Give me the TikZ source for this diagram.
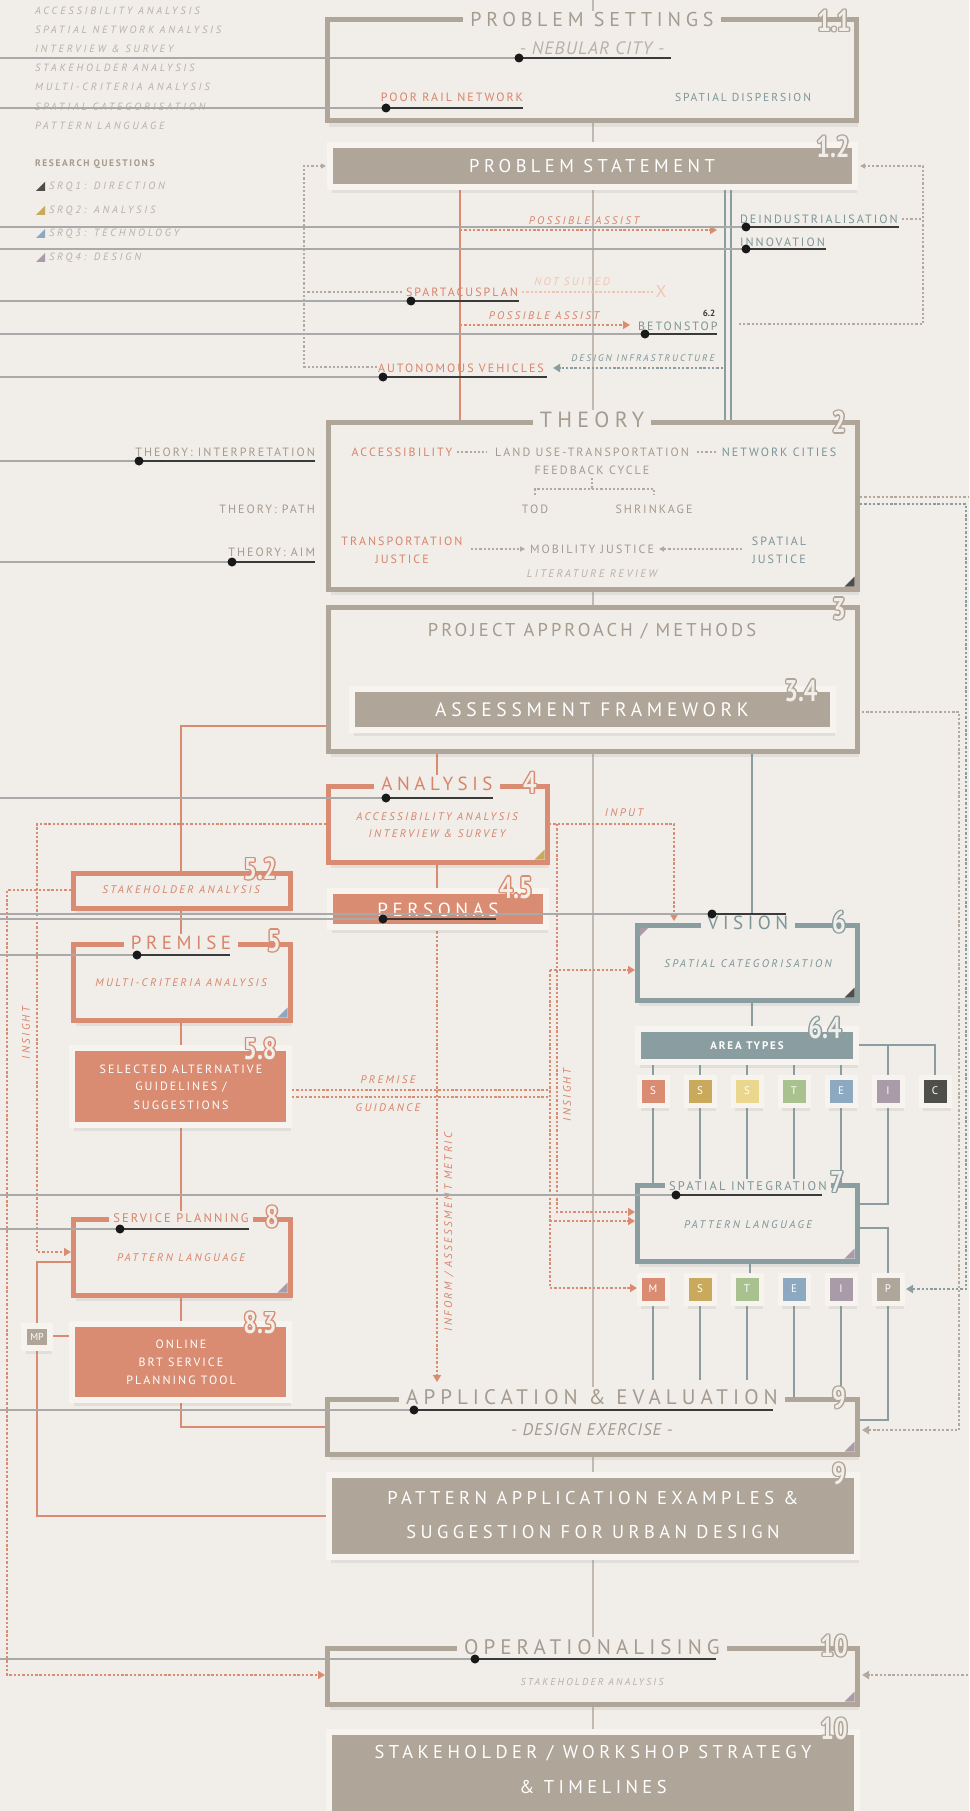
\documentclass[tikz,border=0pt]{standalone}
\usepackage{fontspec}
\usepackage{graphicx}
\setmainfont{PT Sans}
\newfontfamily\fT[LetterSpace=24]{PT Sans}
\newfontfamily\fL[LetterSpace=17]{PT Sans}
\newfontfamily\fW[LetterSpace=27]{PT Sans}
\newfontfamily\fI[LetterSpace=22]{PT Sans}
\newfontfamily\fS[LetterSpace=6]{PT Sans}
\newfontfamily\fN{PT Sans}
\newcommand\fsz[1]{\fontsize{#1}{#1}\selectfont}
\usetikzlibrary{arrows.meta,shadows}
\definecolor{bg}{HTML}{F1EDE8}
\definecolor{tp}{HTML}{AFA598}
\definecolor{tpt}{HTML}{A59B8F}
\definecolor{org}{HTML}{D98C72}
\definecolor{orgt}{HTML}{D8846A}
\definecolor{tl}{HTML}{8A9EA1}
\definecolor{tlt}{HTML}{7C9598}
\definecolor{rim}{HTML}{F7F4F0}
\definecolor{lg}{HTML}{B9B1A9}
\definecolor{gl}{HTML}{A9A9A9}
\definecolor{dk}{HTML}{3A3A3A}
\definecolor{pale}{HTML}{F0C5B5}
\definecolor{gold}{HTML}{C9A95B}
\definecolor{yel}{HTML}{EAD68C}
\definecolor{grn}{HTML}{A9C08F}
\definecolor{blu}{HTML}{8DA8C1}
\definecolor{mau}{HTML}{A99BA8}
\definecolor{drk}{HTML}{4E4E4B}
\definecolor{cln}{HTML}{C2BAB1}
\definecolor{tpd}{HTML}{B3A99E}
\newcommand\bnum[3]{%
  \foreach \dx/\dy in {-1.4/0,1.4/0,0/1.4,0/-1.4,-1/1,1/1,-1/-1,1/-1}{%
    \node[numf,text=#3,xshift=\dx pt,yshift=\dy pt] at (#1) {\scalebox{0.8}[1]{#2}};}%
  \node[numf,text=bg] at (#1) {\scalebox{0.8}[1]{#2}};}
\newcommand\ctri[3]{\fill[#3] (#1,#2) -- ++(-10,0) -- ++(10,-10) -- cycle;}
\begin{document}
\begin{tikzpicture}[x=1pt,y=-1pt,
  every node/.style={inner sep=0pt,outer sep=0pt},
  shd/.style={drop shadow={shadow xshift=2pt,shadow yshift=-6pt,opacity=0.13}},
  obox/.style={draw=#1,line width=5,fill=bg,shd},
  fbox/.style={fill=#1,draw=rim,line width=6,shd},
  sq/.style={fill=#1,draw=rim,line width=5,minimum size=28,text=white,font=\fN\fsz{11},shd},
  ttl/.style={fill=bg,inner xsep=7pt,inner ysep=2pt,text=#1},
  numf/.style={font=\fN\bfseries\fsz{30}},
  ol/.style={draw=org,line width=2.6},
  tls/.style={draw=tl,line width=2.6},
  od/.style={draw=org,line width=2.4,dash pattern=on 2.4pt off 1.9pt},
  odp/.style={draw=pale,line width=2.4,dash pattern=on 2.4pt off 1.9pt},
  tld/.style={draw=tl,line width=2.4,dash pattern=on 2.4pt off 1.9pt},
  tdd/.style={draw=tpd,line width=2.4,dash pattern=on 2.4pt off 1.9pt},
  gd/.style={draw=tpd,line width=1.2,dash pattern=on 2.2pt off 2pt},
  ar/.style={-{Triangle[length=7pt,width=8pt]}},
  sar/.style={-{Triangle[length=5pt,width=5pt]}},
  lst/.style={anchor=west,text=lg,font=\fW\itshape\fsz{10.5}},
  lab/.style={font=\fL\fsz{12}},
  itl/.style={font=\fI\itshape\fsz{11}}
]
\fill[bg] (0,0) rectangle (969,1811);
\useasboundingbox (0,0) rectangle (969,1811);
\clip (0,0) rectangle (969,1811);

% central spine
\draw[draw=cln,line width=1.4] (593,0) -- (593,1745);

% ---------- connectors (under boxes) ----------
\draw[ol] (460,188) -- (460,420);
\draw[tls,line width=2] (725,188) -- (725,420);
\draw[tls,line width=2] (731,188) -- (731,420);
\draw[od,ar] (460,230) -- (717,230);
\draw[odp] (522,292) -- (655,292);
\draw[od,ar] (460,325) -- (630,325);
\draw[tld,ar] (723,368) -- (553,368);
\draw[gd] (402,292) -- (304,292);
\draw[gd,sar] (377,367) -- (304,367) -- (304,166) -- (326,166);
\draw[gd] (902,219) -- (923,219);
\draw[gd,sar] (739,324) -- (923,324) -- (923,166) -- (860,166);
% right side dotted
\draw[tdd,ar] (860,497) -- (985,497) -- (985,1675) -- (862,1675);
\draw[tld,ar] (860,504) -- (966,504) -- (966,1289) -- (906,1289);
\draw[tdd,ar] (836,712) -- (959,712) -- (959,1430) -- (862,1430);
% orange spines
\draw[ol] (326,726) -- (181,726) -- (181,1427) -- (327,1427);
\draw[ol] (437,751) -- (437,893);
\draw[ol] (71,1262) -- (37,1262) -- (37,1516) -- (331,1516);
\draw[ol] (49,1336) -- (74,1336);
% orange dotted
\draw[od,ar] (326,824) -- (37,824) -- (37,1252) -- (71,1252);
\draw[od,ar] (71,890) -- (7,890) -- (7,1675) -- (325,1675);
\draw[od,ar] (549,824) -- (674,824) -- (674,921);
\draw[od,ar] (557,824) -- (557,1212) -- (635,1212);
\draw[od] (292,1090) -- (550,1090);
\draw[od] (292,1097) -- (550,1097);
\draw[od] (550,970) -- (550,1288);
\draw[od,ar] (550,970) -- (635,970);
\draw[od,ar] (550,1221) -- (635,1221);
\draw[od,ar] (550,1288) -- (637,1288);
\draw[od,ar] (437,927) -- (437,1382);
% teal
\draw[tls] (752,751) -- (752,925);
\draw[tls] (752,1000) -- (752,1031);
\foreach \xx in {653,700,747,794,841} {\draw[tls] (\xx,1060) -- (\xx,1185);}
\draw[tls] (854,1045) -- (935,1045) -- (935,1078);
\draw[tls] (888,1045) -- (888,1204) -- (857,1204);
\draw[tls] (750,1261) -- (750,1277);
\draw[tls] (857,1228) -- (888,1228) -- (888,1420) -- (857,1420);
\foreach \xx in {653,700,747} {\draw[tls] (\xx,1301) -- (\xx,1380);}
\foreach \xx in {794,841} {\draw[tls] (\xx,1301) -- (\xx,1399);}

% ---------- boxes ----------
\node[obox=tp,minimum width=529,minimum height=101] (ps) at (591.5,70.5) {};
\node[fbox=tp,minimum width=525,minimum height=42] (pst) at (592.5,166) {};
\node[obox=tp,minimum width=528.5,minimum height=167] (th) at (592.75,505.5) {};
\node[obox=tp,minimum width=528.5,minimum height=144] (m3) at (592.75,679) {};
\node[fbox=tp,minimum width=481,minimum height=41] (af) at (592.5,709.5) {};
\node[obox=org,minimum width=218.5,minimum height=76] (an) at (437.75,824) {};
\node[fbox=org,minimum width=216,minimum height=36] (pe) at (438,909) {};
\node[obox=org,minimum width=216.5,minimum height=35] (s52) at (181.75,890.5) {};
\node[obox=org,minimum width=216.5,minimum height=76] (pr) at (181.75,982) {};
\node[fbox=org,minimum width=217,minimum height=77] (s58) at (180.5,1086.5) {};
\node[obox=org,minimum width=216.5,minimum height=76] (sp) at (181.75,1257) {};
\node[fbox=org,minimum width=217,minimum height=76] (s83) at (180.5,1362) {};
\node[fbox=tp,minimum width=26,minimum height=22,text=white,font=\fN\fsz{10}] (mp) at (37,1336.5) {MP};
\node[obox=tl,minimum width=220,minimum height=75] (vi) at (747,962.5) {};
\node[fbox=tl,minimum width=218,minimum height=33] (aty) at (747,1045.5) {};
\node[obox=tl,minimum width=220,minimum height=76] (si) at (747,1223) {};
\node[obox=tp,minimum width=529.5,minimum height=55] (ap) at (592.25,1426.5) {};
\node[fbox=tp,minimum width=528,minimum height=82] (pa) at (593,1516) {};
\node[obox=tp,minimum width=529.5,minimum height=56] (op) at (592.25,1676) {};
\node[fbox=tp,minimum width=528,minimum height=100] (fi) at (593,1782) {};

% squares
\node[sq=org] (a1) at (653,1091) {S};
\node[sq=gold] (a2) at (700,1091) {S};
\node[sq=yel] (a3) at (747,1091) {S};
\node[sq=grn] (a4) at (794,1091) {T};
\node[sq=blu] (a5) at (841,1091) {E};
\node[sq=mau] (a6) at (888,1091) {I};
\node[sq=drk] (a7) at (935,1091) {C};
\node[sq=org] (b1) at (653,1289) {M};
\node[sq=gold] (b2) at (700,1289) {S};
\node[sq=grn] (b3) at (747,1289) {T};
\node[sq=blu] (b4) at (794,1289) {E};
\node[sq=mau] (b5) at (841,1289) {I};
\node[sq=tp] (b6) at (888,1289) {P};

% corner triangles
\ctri{854.5}{586.5}{drk}
\ctri{544.5}{859.5}{gold}
\ctri{287.5}{1017.5}{blu}
\ctri{287.5}{1292.5}{mau}
\ctri{854.5}{997.5}{drk}
\fill[mau] (639.5,927.5) -- ++(9,0) -- ++(-9,9) -- cycle;
\ctri{854.5}{1258.5}{mau}
\ctri{854.5}{1451.5}{mau}
\ctri{854.5}{1701.5}{mau}

% ---------- titles ----------
\node[ttl=tpt,font=\fT\fsz{20}] (t1) at (592,20) {PROBLEM SETTINGS};
\node[ttl=tpt,font=\fT\fsz{22}] (t2) at (592,420) {THEORY};
\node[ttl=orgt,font=\fT\fsz{19}] (t4) at (437,784) {ANALYSIS};
\node[ttl=orgt,font=\fT\fsz{19}] (t5) at (181,943) {PREMISE};
\node[ttl=orgt,font=\fL\fsz{12.5},inner xsep=4pt] (t8) at (181,1218) {SERVICE PLANNING};
\node[ttl=tlt,font=\fT\fsz{19}] (t6) at (748,923) {VISION};
\node[ttl=tlt,font=\fL\fsz{12.5},inner xsep=4pt] (t7) at (748,1186) {SPATIAL INTEGRATION};
\node[ttl=tpt,font=\fT\fsz{21}] (t9) at (592,1397) {APPLICATION \& EVALUATION};
\node[ttl=tpt,font=\fT\fsz{21}] (t10) at (592,1647) {OPERATIONALISING};

% numbers
\bnum{834,21}{1.1}{tp}
\bnum{833,147}{1.2}{tp}
\bnum{839,422}{2}{tp}
\bnum{839,609}{3}{tp}
\bnum{801,691}{3.4}{tp}
\bnum{530,783}{4}{org}
\bnum{516,888}{4.5}{org}
\bnum{260,869}{5.2}{org}
\bnum{274,941}{5}{org}
\bnum{260,1049}{5.8}{org}
\bnum{272,1217}{8}{org}
\bnum{260,1323}{8.3}{org}
\bnum{839,922}{6}{tl}
\bnum{825,1028}{6.4}{tl}
\bnum{837,1182}{7}{tl}
\bnum{839,1398}{9}{tp}
\bnum{839,1474}{9}{tp}
\bnum{834,1646}{10}{tp}
\bnum{834,1729}{10}{tp}

% ---------- texts inside boxes ----------
\node[text=lg,font=\fS\itshape\fsz{18}] (nc) at (592,48) {- NEBULAR CITY -};
\node[lab,text=orgt] (prn) at (452,97) {POOR RAIL NETWORK};
\node[lab,text=tlt,font=\fL\fsz{11.5}] (sdi) at (743,97) {SPATIAL DISPERSION};
\node[text=white,font=\fT\fsz{18.5}] (pstx) at (592,166) {PROBLEM STATEMENT};

\node[lab,text=orgt] (acc) at (402,452) {ACCESSIBILITY};
\node[lab,text=tpt] (lut) at (592,452) {LAND USE-TRANSPORTATION};
\node[lab,text=tlt] (ncs) at (779,452) {NETWORK CITIES};
\node[lab,text=tpt] (fbc) at (592,470) {FEEDBACK CYCLE};
\node[lab,text=tpt] (tod) at (535,509) {TOD};
\node[lab,text=tpt] (shr) at (654,509) {SHRINKAGE};
\node[lab,text=orgt] (trj1) at (402,541) {TRANSPORTATION};
\node[lab,text=orgt] (trj2) at (402,559) {JUSTICE};
\node[lab,text=tpt] (mbj) at (592,549) {MOBILITY JUSTICE};
\node[lab,text=tlt] (spj1) at (779,541) {SPATIAL};
\node[lab,text=tlt] (spj2) at (779,559) {JUSTICE};
\node[itl,text=lg] (lit) at (592,574) {LITERATURE REVIEW};
\draw[gd] (457,452) -- (487,452);
\draw[gd] (697,452) -- (716,452);
\draw[gd] (592,478) -- (592,489);
\draw[gd] (535,495) -- (535,489) -- (654,489) -- (654,495);
\draw[gd,sar] (471,549) -- (525,549);
\draw[gd,sar] (742,549) -- (659,549);

\node[lab,anchor=east,text=tpt] (thi) at (315,452) {THEORY: INTERPRETATION};
\node[lab,anchor=east,text=tpt] (thp) at (315,509) {THEORY: PATH};
\node[lab,anchor=east,text=tpt] (tha) at (315,552) {THEORY: AIM};

\node[text=tpt,font=\fL\fsz{18.5}] (pam) at (592,631) {PROJECT APPROACH / METHODS};
\node[text=white,font=\fT\fsz{19.5}] (afx) at (592,710) {ASSESSMENT FRAMEWORK};

\node[itl,text=orgt] (an1) at (437,817) {ACCESSIBILITY ANALYSIS};
\node[itl,text=orgt] (an2) at (437,834) {INTERVIEW \& SURVEY};
\node[text=white,font=\fT\fsz{19}] (pex) at (438,910) {PERSONAS};
\node[itl,text=orgt] (s52x) at (181,890) {STAKEHOLDER ANALYSIS};
\node[itl,text=orgt] (prx) at (181,983) {MULTI-CRITERIA ANALYSIS};
\node[lab,text=white,font=\fL\fsz{12}] (s58a) at (181,1069) {SELECTED ALTERNATIVE};
\node[lab,text=white,font=\fL\fsz{12}] (s58b) at (181,1087) {GUIDELINES /};
\node[lab,text=white,font=\fL\fsz{12}] (s58c) at (181,1105) {SUGGESTIONS};
\node[itl,text=orgt] (spx) at (181,1258) {PATTERN LANGUAGE};
\node[lab,text=white,font=\fL\fsz{12}] (s83a) at (181,1344) {ONLINE};
\node[lab,text=white,font=\fL\fsz{12}] (s83b) at (181,1362) {BRT SERVICE};
\node[lab,text=white,font=\fL\fsz{12}] (s83c) at (181,1380) {PLANNING TOOL};

\node[itl,text=tlt] (vix) at (748,964) {SPATIAL CATEGORISATION};
\node[text=white,font=\fL\bfseries\fsz{11}] (atx) at (747,1046) {AREA TYPES};
\node[itl,text=tlt] (six) at (748,1225) {PATTERN LANGUAGE};
\node[text=tpt,font=\fS\itshape\fsz{17}] (apx) at (592,1430) {- DESIGN EXERCISE -};
\node[text=white,font=\fT\fsz{18.5}] (pa1) at (593,1498) {PATTERN APPLICATION EXAMPLES \&};
\node[text=white,font=\fT\fsz{18.5}] (pa2) at (593,1532) {SUGGESTION FOR URBAN DESIGN};
\node[itl,text=lg,font=\fI\itshape\fsz{10}] (opx) at (592,1682) {STAKEHOLDER ANALYSIS};
\node[text=white,font=\fT\fsz{18.5}] (fi1) at (593,1753) {STAKEHOLDER / WORKSHOP STRATEGY};
\node[text=white,font=\fT\fsz{18.5}] (fi2) at (593,1787) {\& TIMELINES};

% ---------- connector labels ----------
\node[itl,text=orgt] (pa01) at (584,221) {POSSIBLE ASSIST};
\node[itl,text=pale] (nsu) at (572,282) {NOT SUITED};
\node[text=pale,font=\fN\fsz{17}] (xx) at (661,292) {X};
\node[itl,text=orgt] (pa02) at (544,316) {POSSIBLE ASSIST};
\node[itl,text=tlt,font=\fI\itshape\fsz{9.5}] (dif) at (643,358) {DESIGN INFRASTRUCTURE};
\node[itl,text=orgt] (inp) at (624,813) {INPUT};
\node[itl,text=orgt] (pml) at (388,1080) {PREMISE};
\node[itl,text=orgt] (gdl) at (388,1108) {GUIDANCE};
\node[itl,text=orgt,rotate=90] (ins1) at (567,1095) {INSIGHT};
\node[itl,text=orgt,rotate=90] (ins2) at (26,1033) {INSIGHT};
\node[itl,text=orgt,rotate=90] (iam) at (449,1232) {INFORM / ASSESSMENT METRIC};

\node[lab,anchor=west,text=tlt] (dei) at (740,219) {DEINDUSTRIALISATION};
\node[lab,anchor=west,text=tlt] (inn) at (740,242) {INNOVATION};
\node[lab,anchor=west,text=orgt] (spa) at (406,292) {SPARTACUSPLAN};
\node[text=dk,font=\fN\bfseries\fsz{9}] (n62) at (709,313) {6.2};
\node[lab,anchor=west,text=tlt] (bet) at (638,326) {BETONSTOP};
\node[lab,anchor=west,text=orgt] (aut) at (378,368) {AUTONOMOUS VEHICLES};

% left legend
\node[lst] (l1) at (35,11) {ACCESSIBILITY ANALYSIS};
\node[lst] (l2) at (35,30) {SPATIAL NETWORK ANALYSIS};
\node[lst] (l3) at (35,49) {INTERVIEW \& SURVEY};
\node[lst] (l4) at (35,68) {STAKEHOLDER ANALYSIS};
\node[lst] (l5) at (35,87) {MULTI-CRITERIA ANALYSIS};
\node[lst] (l6) at (35,107) {SPATIAL CATEGORISATION};
\node[lst] (l7) at (35,126) {PATTERN LANGUAGE};
\node[anchor=west,text=tpt,font=\fL\bfseries\fsz{9.5}] (rq) at (35,164) {RESEARCH QUESTIONS};
\fill[drk] (36,191) -- (45,191) -- (45,182) -- cycle;
\fill[gold] (36,215) -- (45,215) -- (45,206) -- cycle;
\fill[blu] (36,238) -- (45,238) -- (45,229) -- cycle;
\fill[mau] (36,262) -- (45,262) -- (45,253) -- cycle;
\node[lst] (q1) at (49,187) {SRQ1: DIRECTION};
\node[lst] (q2) at (49,211) {SRQ2: ANALYSIS};
\node[lst] (q3) at (49,234) {SRQ3: TECHNOLOGY};
\node[lst] (q4) at (49,258) {SRQ4: DESIGN};

% ---------- reading lines with dots ----------
\foreach \yy/\xd/\xe in {58/519/671,108/386/523,227/746/899,249/746/826,301/411/519,334/645/717,377/383/547,461/139/315,562/232/315,798/386/493,914/712/786,919/383/496,955/137/230,1195/676/822,1229/120/249,1410/414/773,1659/475/716}{
  \draw[gl,line width=1.3] (0,\yy) -- (\xd,\yy);
  \draw[dk,line width=1.6] (\xd,\yy) -- (\xe,\yy);
  \fill[black!90] (\xd,\yy) circle (4.5);
}
\end{tikzpicture}
\end{document}
